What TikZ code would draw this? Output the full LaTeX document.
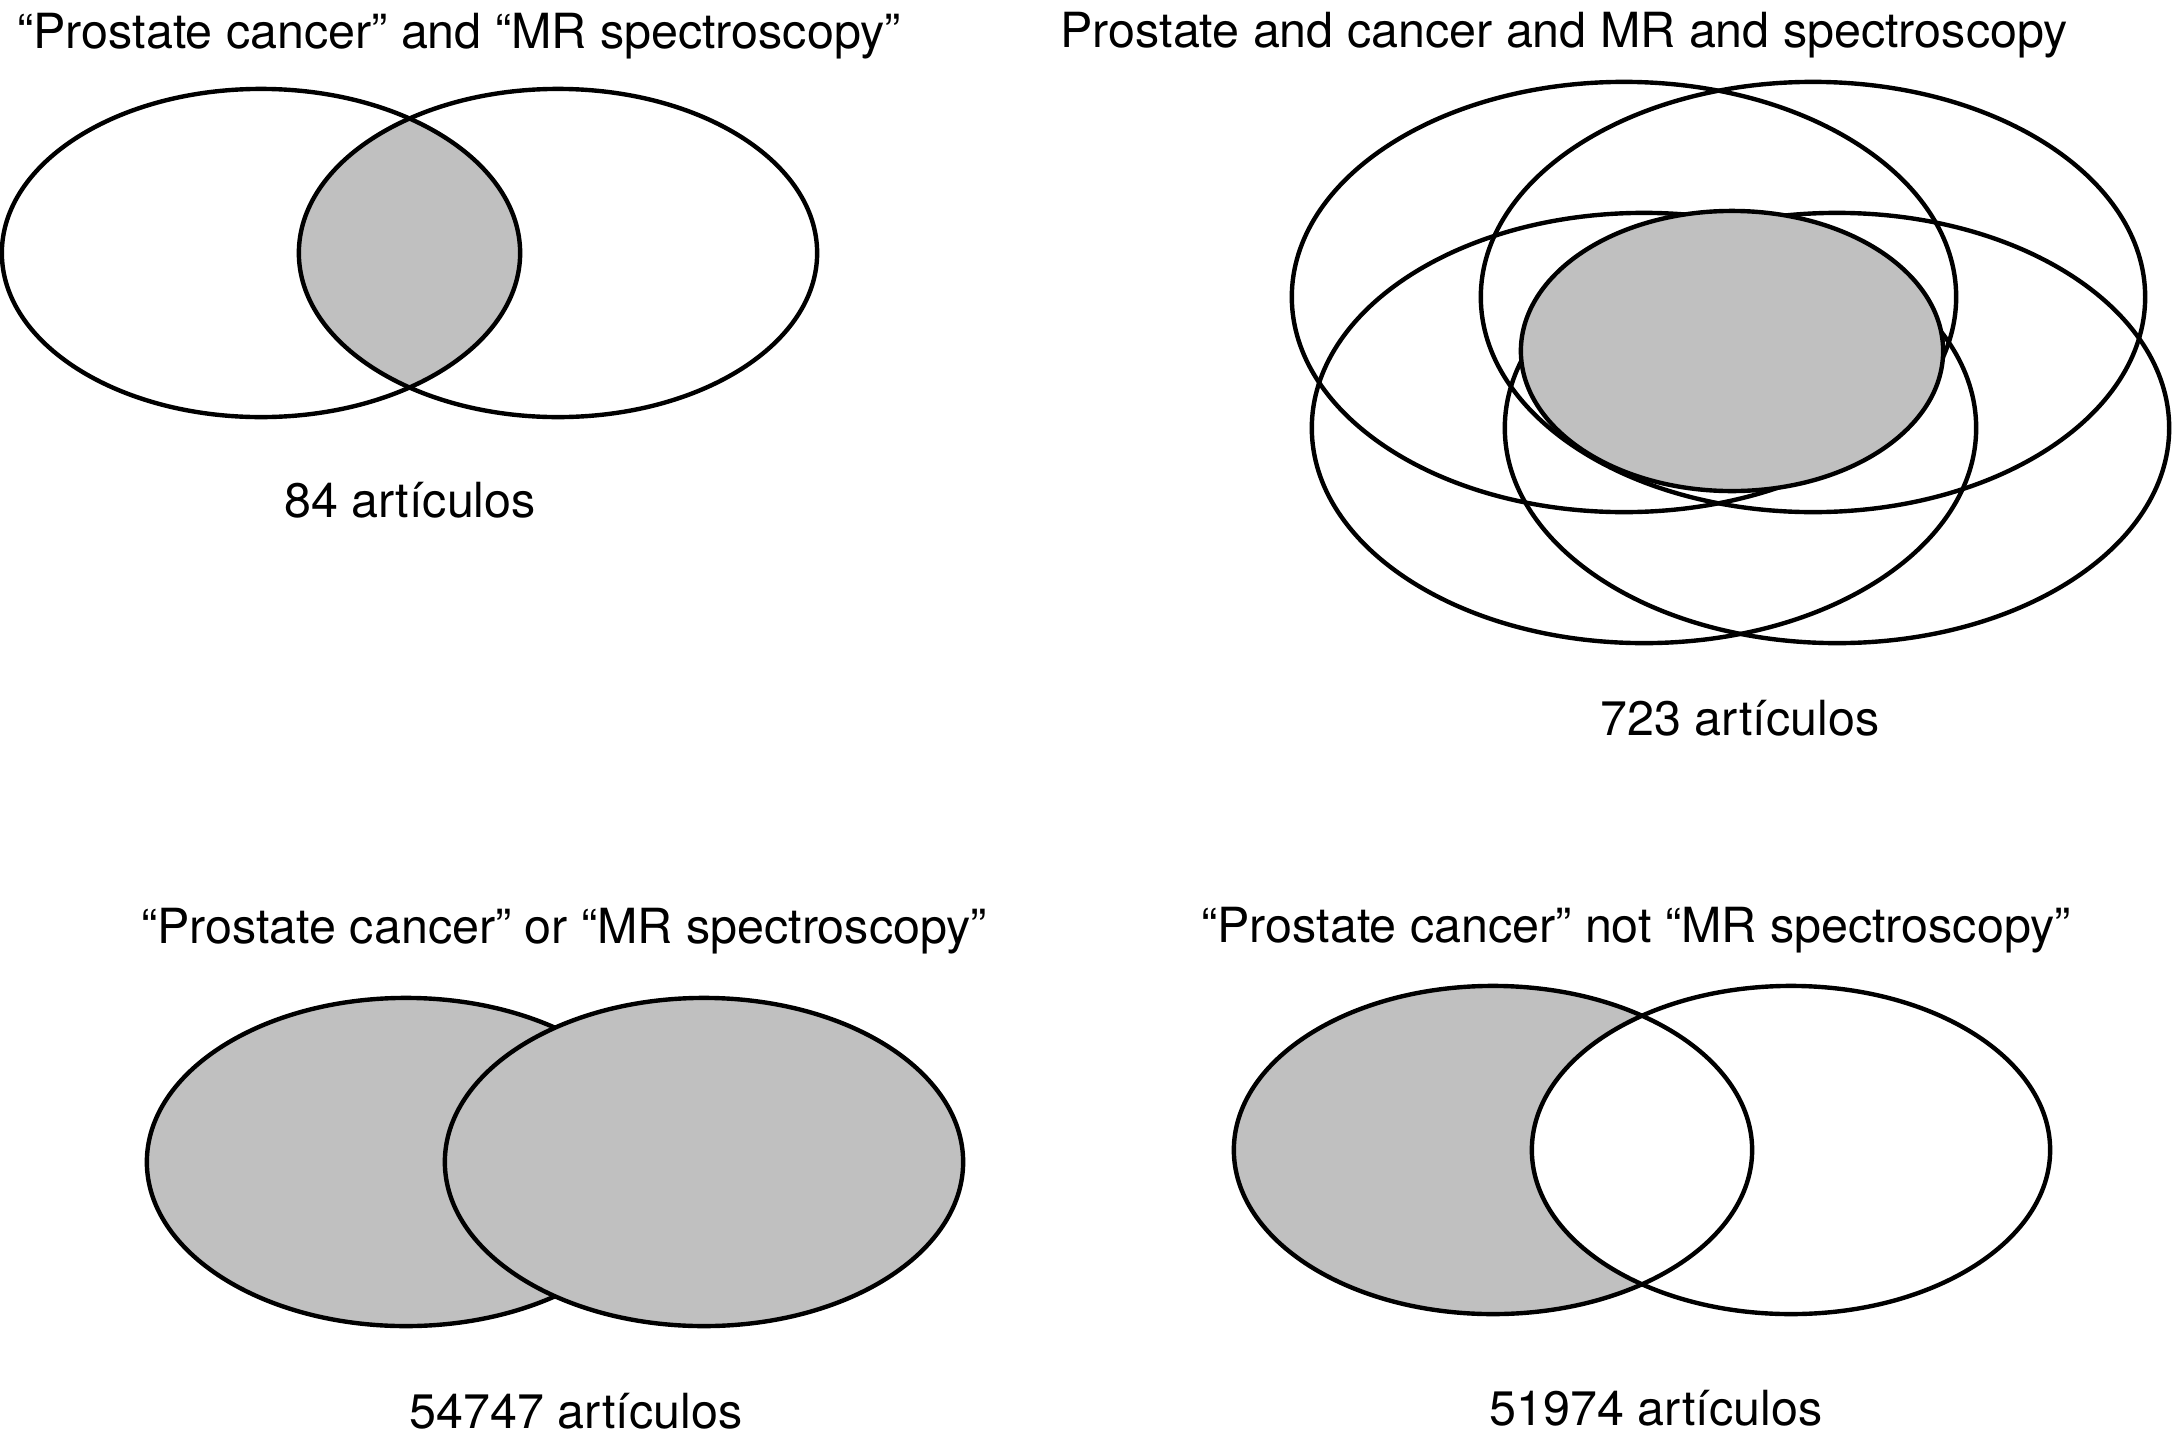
\documentclass[tikz,border=0pt]{standalone}
\usepackage{fontspec}
\setmainfont{TeX Gyre Heros}
\definecolor{venngray}{RGB}{192,192,192}
\begin{document}
\begin{tikzpicture}[x=0.01cm,y=-0.01cm,
  outline/.style={draw=black,line width=1.25pt},
  venn/.style={x radius=2.59cm,y radius=1.64cm},
  big/.style={x radius=3.32cm,y radius=2.15cm},
  core/.style={x radius=2.11cm,y radius=1.40cm},
  lbl/.style={inner sep=0pt,anchor=base,font=\fontsize{13.77pt}{16pt}\selectfont}]
\useasboundingbox (0,0) rectangle (2174,1451);
\fill[white] (0,0) rectangle (2174,1451);

% ---- top left: AND
\coordinate (tl1) at (261,253);
\coordinate (tl2) at (558,253);
\begin{scope}
  \clip (tl1) ellipse[venn];
  \fill[venngray] (tl2) ellipse[venn];
\end{scope}
\draw[outline] (tl1) ellipse[venn];
\draw[outline] (tl2) ellipse[venn];
\node[lbl] (t1) at (459,48) {“Prostate cancer” and “MR spectroscopy”};
\node[lbl] (c1) at (410,517) {84 artículos};

% ---- top right: four terms
\coordinate (trA) at (1624,297);
\coordinate (trB) at (1813,297);
\coordinate (trC) at (1644,428);
\coordinate (trD) at (1837,428);
\coordinate (trS) at (1732,351);
\draw[outline] (trA) ellipse[big];
\draw[outline] (trB) ellipse[big];
\draw[outline] (trC) ellipse[big];
\draw[outline] (trD) ellipse[big];
\draw[outline,fill=venngray] (trS) ellipse[core];
\node[lbl] (t2) at (1564,47) {Prostate and cancer and MR and spectroscopy};
\node[lbl] (c2) at (1740,735) {723 artículos};

% ---- bottom left: OR
\coordinate (bl1) at (406,1162);
\coordinate (bl2) at (704,1162);
\draw[outline,fill=venngray] (bl1) ellipse[venn];
\draw[outline,fill=venngray] (bl2) ellipse[venn];
\node[lbl] (t3) at (564,943) {“Prostate cancer” or “MR spectroscopy”};
\node[lbl] (c3) at (576,1428) {54747 artículos};

% ---- bottom right: NOT
\coordinate (br1) at (1493,1150);
\coordinate (br2) at (1791,1150);
\fill[venngray] (br1) ellipse[venn];
\fill[white] (br2) ellipse[venn];
\draw[outline] (br1) ellipse[venn];
\draw[outline] (br2) ellipse[venn];
\node[lbl] (t4) at (1636,942) {“Prostate cancer” not “MR spectroscopy”};
\node[lbl] (c4) at (1656,1425) {51974 artículos};
\end{tikzpicture}
\end{document}
